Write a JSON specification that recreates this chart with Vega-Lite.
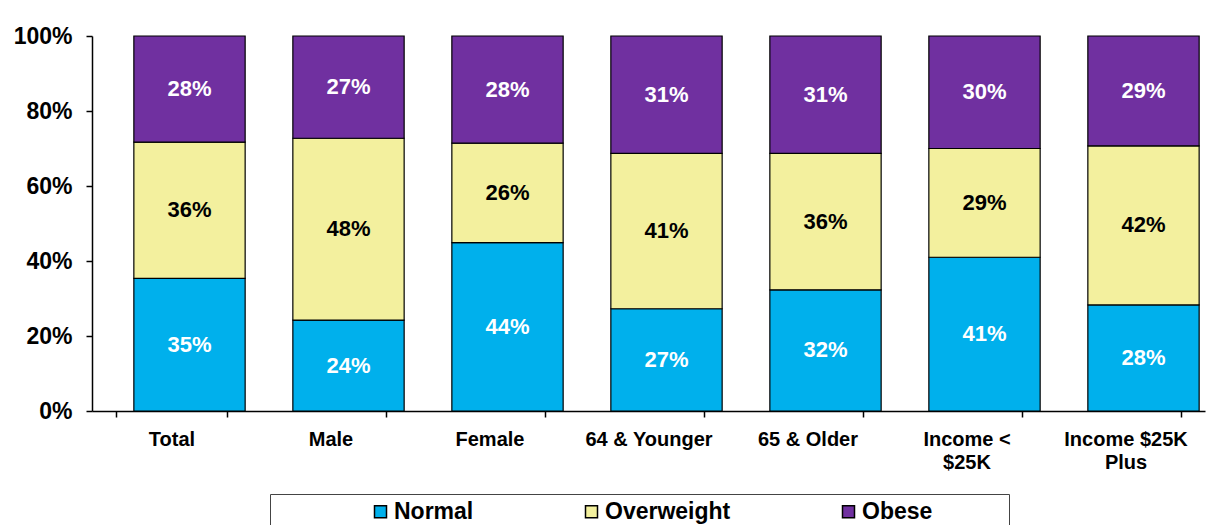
{
  "$schema": "https://vega.github.io/schema/vega-lite/v6.json",
  "autosize": "none",
  "width": 1113,
  "height": 375,
  "padding": {"left": 92, "top": 36, "right": 24, "bottom": 114},
  "background": "white",
  "config": {
    "view": {"stroke": null},
    "font": "Liberation Sans"
  },
  "datasets": {
    "categories": [
      {"Category": "Normal", "Rank": 1},
      {"Category": "Overweight", "Rank": 2},
      {"Category": "Obese", "Rank": 3}
    ]
  },
  "data": {
    "values": [
      {"Group": "Total", "Category": "Normal", "Share": 0.35},
      {"Group": "Total", "Category": "Overweight", "Share": 0.36},
      {"Group": "Total", "Category": "Obese", "Share": 0.28},
      {"Group": "Male", "Category": "Normal", "Share": 0.24},
      {"Group": "Male", "Category": "Overweight", "Share": 0.48},
      {"Group": "Male", "Category": "Obese", "Share": 0.27},
      {"Group": "Female", "Category": "Normal", "Share": 0.44},
      {"Group": "Female", "Category": "Overweight", "Share": 0.26},
      {"Group": "Female", "Category": "Obese", "Share": 0.28},
      {"Group": "64 & Younger", "Category": "Normal", "Share": 0.27},
      {"Group": "64 & Younger", "Category": "Overweight", "Share": 0.41},
      {"Group": "64 & Younger", "Category": "Obese", "Share": 0.31},
      {"Group": "65 & Older", "Category": "Normal", "Share": 0.32},
      {"Group": "65 & Older", "Category": "Overweight", "Share": 0.36},
      {"Group": "65 & Older", "Category": "Obese", "Share": 0.31},
      {"Group": "Income < $25K", "Category": "Normal", "Share": 0.41},
      {"Group": "Income < $25K", "Category": "Overweight", "Share": 0.29},
      {"Group": "Income < $25K", "Category": "Obese", "Share": 0.30},
      {"Group": "Income $25K Plus", "Category": "Normal", "Share": 0.28},
      {"Group": "Income $25K Plus", "Category": "Overweight", "Share": 0.42},
      {"Group": "Income $25K Plus", "Category": "Obese", "Share": 0.29}
    ]
  },
  "transform": [
    {"lookup": "Category", "from": {"data": {"name": "categories"}, "key": "Category", "fields": ["Rank"]}}
  ],
  "encoding": {
    "x": {
      "field": "Group",
      "type": "nominal",
      "sort": null,
      "scale": {"paddingInner": 0.3, "paddingOuter": 0.15},
      "axis": {
        "title": null,
        "labelAngle": 0,
        "labelFont": "Liberation Sans",
        "labelFontWeight": "bold",
        "labelFontSize": 20,
        "labelColor": "black",
        "labelLineHeight": 23,
        "labelPadding": 12,
        "labelLimit": 300,
        "labelExpr": "datum.label == 'Income < $25K' ? ['Income <', '$25K'] : datum.label == 'Income $25K Plus' ? ['Income $25K', 'Plus'] : datum.label",
        "domainColor": "black",
        "domainWidth": 1.5,
        "tickColor": "black",
        "tickSize": 6,
        "tickWidth": 1.5,
        "tickBand": "extent"
      }
    },
    "y": {
      "field": "Share",
      "type": "quantitative",
      "stack": "normalize",
      "scale": {"domain": [0, 1]},
      "axis": {
        "title": null,
        "values": [0, 0.2, 0.4, 0.6, 0.8, 1],
        "format": ".0%",
        "grid": false,
        "labelFont": "Liberation Sans",
        "labelFontWeight": "bold",
        "labelFontSize": 23,
        "labelColor": "black",
        "labelPadding": 14,
        "domainColor": "black",
        "domainWidth": 1.5,
        "tickColor": "black",
        "tickSize": 6,
        "tickWidth": 1.5
      }
    },
    "order": {"field": "Rank", "type": "quantitative", "sort": "ascending"}
  },
  "layer": [
    {
      "mark": {"type": "bar", "xOffset": 18, "stroke": "black", "strokeWidth": 1.2},
      "encoding": {
        "color": {
          "field": "Category",
          "type": "nominal",
          "scale": {"domain": ["Normal", "Overweight", "Obese"], "range": ["#00B0EC", "#F3F09E", "#7030A0"]},
          "legend": {
            "orient": "none",
            "legendX": 178,
            "legendY": 458,
            "direction": "horizontal",
            "title": null,
            "padding": 6,
            "strokeColor": "#444444",
            "fillColor": "white",
            "symbolType": "square",
            "symbolSize": 144,
            "symbolStrokeColor": "black",
            "symbolStrokeWidth": 1.5,
            "symbolOffset": 93,
            "labelOffset": 2,
            "columnPadding": 13,
            "labelFont": "Liberation Sans",
            "labelFontWeight": "bold",
            "labelFontSize": 23,
            "labelColor": "black",
            "labelLimit": 400,
            "labelExpr": "datum.label == 'Obese' ? 'Obese\u00a0\u00a0\u00a0\u00a0\u00a0\u00a0\u00a0\u00a0\u00a0\u00a0\u00a0\u200b' : datum.label"
          }
        }
      }
    },
    {
      "mark": {"type": "text", "xOffset": 18, "fontSize": 22, "fontWeight": "bold", "font": "Liberation Sans", "baseline": "middle"},
      "encoding": {
        "y": {"field": "Share", "type": "quantitative", "stack": "normalize", "bandPosition": 0.5},
        "detail": {"field": "Category", "type": "nominal"},
        "text": {"field": "Share", "type": "quantitative", "format": ".0%"},
        "color": {
          "condition": {"test": "datum.Category == 'Overweight'", "value": "black"},
          "value": "white"
        }
      }
    }
  ]
}
